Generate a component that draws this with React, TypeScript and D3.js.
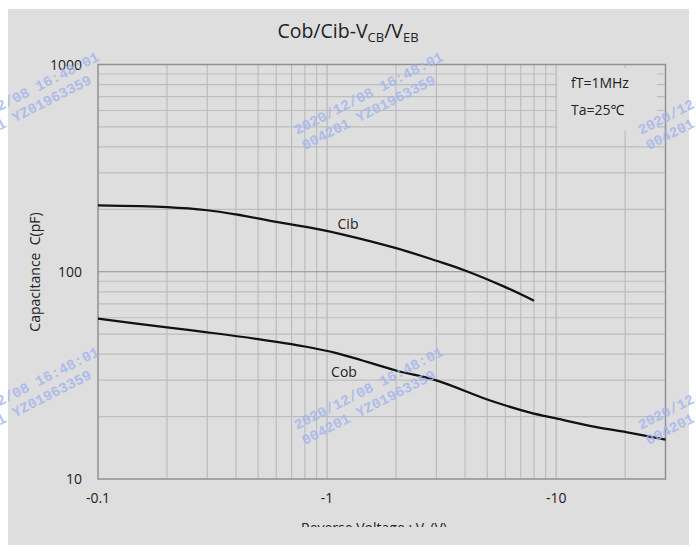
import React from "react";
import * as d3 from "d3";

const cibV = [0.1, 0.2, 0.3, 0.4, 0.6, 0.9, 1.15, 2, 3, 4, 5.9, 8];
const cibC = [209, 205, 198, 189, 174, 161, 152, 130, 113, 101.5, 85, 72.5];
const cobV = [0.1, 0.2, 0.3, 0.5, 0.8, 1.1, 2, 3, 5, 7.7, 10, 15, 21, 30];
const cobC = [59.4, 53.9, 51, 47.3, 43.6, 40.5, 33.4, 29.9, 24.2, 20.9, 19.6, 17.8, 16.7, 15.5];
const xTicks = [0.1, 1, 10];
const xTickLabels = ["-0.1", "-1", "-10"];
const yTicks = [10, 100, 1000];
const yTickLabels = ["10", "100", "1000"];
const watermark1 = "2020/12/08 16:48:01";
const watermark2 = "004201 YZ01963359";

const W = 696;
const H = 548;
const FONT = "'Open Sans', 'Noto Sans', sans-serif";

export default function App() {
  const x = d3.scaleLog().domain([0.1, 30]).range([98, 665.5]);
  const y = d3.scaleLog().domain([10, 1000]).range([479, 64.5]);
  const [x0, x1] = x.range();
  const [y0, y1] = y.range();

  const xMinor: number[] = [];
  [0.1, 1, 10].forEach((d) => {
    for (let k = 2; k <= 9; k++) if (k * d < 30) xMinor.push(k * d);
  });
  const yMinor: number[] = [];
  [10, 100].forEach((d) => {
    for (let k = 2; k <= 9; k++) yMinor.push(k * d);
  });

  const line = d3
    .line<[number, number]>()
    .x((d) => x(d[0]))
    .y((d) => y(d[1]))
    .curve(d3.curveCatmullRom.alpha(0.5));
  const cib = line(cibV.map((v, i) => [v, cibC[i]] as [number, number])) || "";
  const cob = line(cobV.map((v, i) => [v, cobC[i]] as [number, number])) || "";

  const minorColor = "#bdbdbd";
  const majorColor = "#919191";

  const wmX = [-47, 297, 641];
  const wmY = [135, 430];

  return (
    <svg
      width={W}
      height={H}
      style={{ position: "absolute", left: 0, top: 0, background: "#ffffff" }}
    >
      <defs>
        <clipPath id="xlabclip">
          <rect x={0} y={0} width={W} height={527} />
        </clipPath>
      </defs>
      <rect x={8} y={9} width={681} height={536} fill="#dedede" />

      {/* grid */}
      {xMinor.map((v) => (
        <line key={"xv" + v} x1={x(v)} x2={x(v)} y1={y1} y2={y0} stroke={minorColor} strokeWidth={1.2} />
      ))}
      {yMinor.map((v) => (
        <line key={"yv" + v} x1={x0} x2={x1} y1={y(v)} y2={y(v)} stroke={minorColor} strokeWidth={1.2} />
      ))}
      {xTicks.slice(1).map((v) => (
        <line key={"xm" + v} x1={x(v)} x2={x(v)} y1={y1} y2={y0} stroke={minorColor} strokeWidth={1.4} />
      ))}
      <line x1={x0} x2={x1} y1={y(100)} y2={y(100)} stroke={majorColor} strokeWidth={1.2} />

      {/* annotation box */}
      <rect x={557} y={68} width={100} height={63} fill="#dedede" />

      {/* border */}
      <rect x={x0} y={y1} width={x1 - x0} height={y0 - y1} fill="none" stroke={majorColor} strokeWidth={1.5} />

      {/* curves */}
      <path d={cib} fill="none" stroke="#111" strokeWidth={2.2} />
      <path d={cob} fill="none" stroke="#111" strokeWidth={2.2} />
      <text x={348} y={229} fontFamily={FONT} fontSize={14} fill="#222" textAnchor="middle">Cib</text>
      <text x={344} y={377} fontFamily={FONT} fontSize={14} fill="#222" textAnchor="middle">Cob</text>

      {/* annotation */}
      <text x={571} y={88} fontFamily={FONT} fontSize={14} fill="#222">fT=1MHz</text>
      <text x={571} y={115} fontFamily={FONT} fontSize={14} fill="#222">Ta=25℃</text>

      {/* y ticks */}
      {yTicks.map((v, i) => (
        <text key={"yt" + v} x={82} y={y(v) + 5} fontFamily={FONT} fontSize={14} fill="#222" textAnchor="end">
          {yTickLabels[i]}
        </text>
      ))}
      {/* x ticks */}
      {xTicks.map((v, i) => (
        <text key={"xt" + v} x={x(v)} y={503} fontFamily={FONT} fontSize={14} fill="#222" textAnchor="middle">
          {xTickLabels[i]}
        </text>
      ))}

      {/* titles */}
      <text x={348} y={38} fontFamily={FONT} fontSize={19.5} fill="#222" textAnchor="middle">
        Cob/Cib-V<tspan fontSize={13} dy={4}>CB</tspan>
        <tspan dy={-4}>/V</tspan>
        <tspan fontSize={13} dy={4}>EB</tspan>
      </text>
      <text
        transform="translate(40,272) rotate(-90)"
        fontFamily={FONT}
        fontSize={14}
        fill="#222"
        textAnchor="middle"
      >
        {"Capacitance\u00a0\u00a0C(pF)"}
      </text>
      <g clipPath="url(#xlabclip)">
        <text x={301} y={533} fontFamily={FONT} fontSize={14} fill="#222">
          Reverse Voltage : V<tspan fontSize={10} dy={3}>R</tspan>
          <tspan dy={-3}>(V)</tspan>
        </text>
      </g>

      {/* watermarks */}
      {wmX.map((wx) =>
        wmY.map((wy) => (
          <g key={"wm" + wx + "_" + wy} transform={`translate(${wx},${wy}) rotate(-27)`} opacity={0.8}>
            <text x={0} y={0} fontFamily="'Liberation Mono', monospace" fontSize={14.5} fontWeight="bold" fill="#a3b4ee">
              {watermark1}
            </text>
            <text x={0} y={17} fontFamily="'Liberation Mono', monospace" fontSize={14.5} fontWeight="bold" fill="#a3b4ee">
              {watermark2}
            </text>
          </g>
        ))
      )}
    </svg>
  );
}
